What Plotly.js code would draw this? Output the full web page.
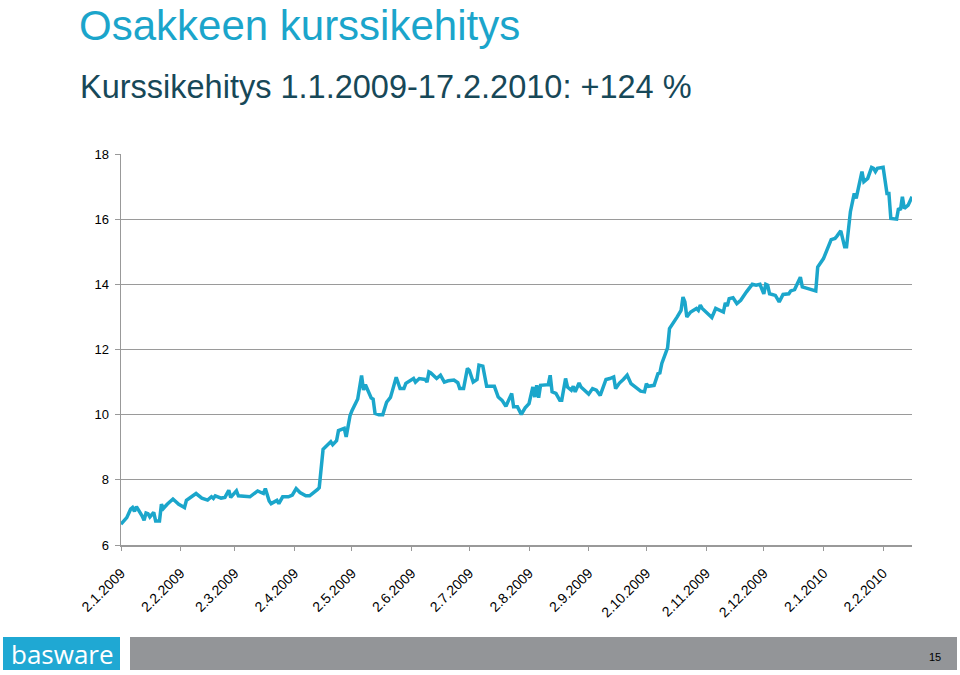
<!DOCTYPE html>
<html>
<head>
<meta charset="utf-8">
<script src="https://cdn.plot.ly/plotly-3.0.1.min.js"></script>
<style>
html,body{margin:0;padding:0;background:#fff;}
#chart{width:960px;height:675px;}
</style>
</head>
<body>
<div id="chart"></div>
<script>
// ---- data ----
const dates = [
"2009-01-02","2009-01-05","2009-01-07","2009-01-08","2009-01-09","2009-01-10","2009-01-13","2009-01-14","2009-01-15","2009-01-16",
"2009-01-17","2009-01-19","2009-01-20","2009-01-22","2009-01-23","2009-01-24","2009-01-26","2009-01-29","2009-02-01","2009-02-04",
"2009-02-05","2009-02-08","2009-02-10","2009-02-13","2009-02-16","2009-02-18","2009-02-19","2009-02-20","2009-02-23","2009-02-25",
"2009-02-27","2009-02-28","2009-03-03","2009-03-04","2009-03-10","2009-03-14","2009-03-17","2009-03-18","2009-03-20","2009-03-21",
"2009-03-24","2009-03-25","2009-03-27","2009-03-30","2009-04-01","2009-04-03","2009-04-05","2009-04-08","2009-04-10","2009-04-14",
"2009-04-15","2009-04-17","2009-04-18","2009-04-21","2009-04-22","2009-04-24","2009-04-25","2009-04-28","2009-04-29","2009-05-01",
"2009-05-02","2009-05-05","2009-05-07","2009-05-08","2009-05-09","2009-05-10","2009-05-12","2009-05-13","2009-05-14","2009-05-16",
"2009-05-18","2009-05-20","2009-05-22","2009-05-23","2009-05-25","2009-05-27","2009-05-29","2009-05-30","2009-05-31","2009-06-03",
"2009-06-04","2009-06-06","2009-06-09","2009-06-10","2009-06-11","2009-06-12","2009-06-15","2009-06-17","2009-06-19","2009-06-21",
"2009-06-24","2009-06-26","2009-06-27","2009-06-29","2009-07-01","2009-07-02","2009-07-04","2009-07-06","2009-07-07","2009-07-09",
"2009-07-11","2009-07-15","2009-07-17","2009-07-19","2009-07-21","2009-07-24","2009-07-25","2009-07-27","2009-07-29","2009-07-31",
"2009-08-02","2009-08-04","2009-08-05","2009-08-06","2009-08-07","2009-08-08","2009-08-12","2009-08-13","2009-08-14","2009-08-16",
"2009-08-18","2009-08-19","2009-08-21","2009-08-22","2009-08-24","2009-08-25","2009-08-26","2009-08-28","2009-08-29","2009-09-01",
"2009-09-02","2009-09-04","2009-09-06","2009-09-08","2009-09-11","2009-09-13","2009-09-15","2009-09-16","2009-09-18","2009-09-20",
"2009-09-22","2009-09-24","2009-09-27","2009-09-29","2009-10-01","2009-10-02","2009-10-03","2009-10-06","2009-10-08","2009-10-09",
"2009-10-10","2009-10-12","2009-10-13","2009-10-14","2009-10-16","2009-10-18","2009-10-20","2009-10-21","2009-10-22","2009-10-23",
"2009-10-25","2009-10-28","2009-10-29","2009-10-30","2009-10-31","2009-11-03","2009-11-05","2009-11-07","2009-11-09","2009-11-11",
"2009-11-12","2009-11-13","2009-11-14","2009-11-16","2009-11-18","2009-11-20","2009-11-23","2009-11-26","2009-11-28","2009-11-30",
"2009-12-02","2009-12-03","2009-12-04","2009-12-05","2009-12-08","2009-12-10","2009-12-12","2009-12-15","2009-12-16","2009-12-18",
"2009-12-21","2009-12-22","2009-12-25","2009-12-29","2009-12-30","2010-01-02","2010-01-06","2010-01-08","2010-01-09","2010-01-11",
"2010-01-13","2010-01-14","2010-01-16","2010-01-18","2010-01-19","2010-01-22","2010-01-23","2010-01-25","2010-01-27","2010-01-28",
"2010-01-29","2010-01-30","2010-02-02","2010-02-04","2010-02-05","2010-02-06","2010-02-09","2010-02-10","2010-02-11","2010-02-12",
"2010-02-13","2010-02-15","2010-02-17"
];
const prices = [
6.64,6.84,7.10,7.15,7.03,7.18,6.89,6.76,6.98,6.96,
6.86,7.00,6.74,6.74,7.25,7.12,7.25,7.41,7.25,7.15,
7.37,7.51,7.58,7.44,7.38,7.48,7.43,7.51,7.44,7.46,
7.68,7.46,7.66,7.51,7.48,7.66,7.58,7.73,7.35,7.27,
7.37,7.27,7.48,7.48,7.53,7.73,7.61,7.51,7.51,7.70,
7.76,8.94,8.99,9.17,9.08,9.20,9.51,9.58,9.32,9.97,
10.12,10.48,11.20,10.76,10.92,10.76,10.51,10.48,10.04,10.00,
10.00,10.38,10.53,10.73,11.15,10.80,10.80,10.96,11.00,11.11,
11.00,11.11,11.08,11.00,11.31,11.28,11.11,11.21,11.00,11.04,
11.06,10.98,10.80,10.80,11.42,11.36,11.00,11.08,11.52,11.49,
10.87,10.87,10.54,10.44,10.26,10.65,10.24,10.24,10.01,10.21,
10.34,10.85,10.54,10.90,10.52,10.90,10.92,11.21,10.70,10.65,
10.44,10.44,11.11,10.85,10.75,10.87,10.70,10.97,10.85,10.67,
10.63,10.80,10.75,10.59,11.08,11.11,11.16,10.80,10.97,11.08,
11.21,10.95,10.83,10.72,10.70,10.95,10.87,10.90,11.26,11.28,
11.57,11.90,12.05,12.64,12.80,13.00,13.20,13.61,13.46,13.00,
13.15,13.26,13.20,13.36,13.26,13.08,12.98,13.26,13.20,13.15,
13.43,13.33,13.56,13.59,13.41,13.51,13.77,14.00,13.97,14.00,
13.71,14.00,13.97,13.71,13.66,13.46,13.69,13.71,13.80,13.84,
14.22,13.92,13.87,13.80,14.53,14.79,15.37,15.41,15.48,15.64,
15.15,15.15,16.23,16.79,16.64,17.46,17.15,17.25,17.59,17.56,
17.46,17.56,17.59,16.79,16.79,16.02,16.00,16.33,16.28,16.69,
16.33,16.43,16.69
];
const tickDates = ["2009-01-02","2009-02-02","2009-03-02","2009-04-02","2009-05-02","2009-06-02","2009-07-02",
"2009-08-02","2009-09-02","2009-10-02","2009-11-02","2009-12-02","2010-01-02","2010-02-02"];
const tickLabels = ["2.1.2009","2.2.2009","2.3.2009","2.4.2009","2.5.2009","2.6.2009","2.7.2009",
"2.8.2009","2.9.2009","2.10.2009","2.11.2009","2.12.2009","2.1.2010","2.2.2010"];
const yTicks = [6,8,10,12,14,16,18];
const titleText = "Osakkeen kurssikehitys";
const subtitleText = "Kurssikehitys 1.1.2009-17.2.2010: +124 %";
const logoText = "basware";
const pageNumber = "15";

// ---- layout helpers (pixel -> paper) ----
const L = 121, R = 48, T = 154, B = 130, W = 960, H = 675;
const pw = W - L - R, ph = H - T - B;
const px = x => (x - L) / pw;
const py = y => (H - B - y) / ph;

const trace = {
  x: dates, y: prices, type: "scatter", mode: "lines",
  line: {color: "#1BA6CB", width: 3.5},
  hoverinfo: "x+y"
};

const layout = {
  width: W, height: H,
  margin: {l: L, r: R, t: T, b: B, pad: 0},
  paper_bgcolor: "#ffffff", plot_bgcolor: "#ffffff",
  showlegend: false,
  font: {family: "Liberation Sans, Arial, sans-serif", color: "#000"},
  xaxis: {
    type: "date",
    range: ["2009-01-02", "2010-02-17"],
    tickvals: tickDates, ticktext: tickLabels,
    tickangle: -45,
    tickfont: {size: 14, color: "#000"},
    ticks: "outside", ticklen: 4, tickcolor: "#999",
    ticklabelstandoff: 9,
    showgrid: false, zeroline: false,
    showline: true, linecolor: "#999", linewidth: 1.5,
    fixedrange: true
  },
  yaxis: {
    range: [6, 18],
    tickvals: yTicks,
    tickfont: {size: 13, color: "#000"},
    ticks: "outside", ticklen: 5, tickcolor: "#999",
    ticklabelstandoff: 3,
    showgrid: true, gridcolor: "#9a9a9a", gridwidth: 1.2,
    zeroline: false,
    showline: true, linecolor: "#999", linewidth: 1.5,
    fixedrange: true
  },
  shapes: [
    {type: "rect", xref: "paper", yref: "paper",
     x0: px(3), x1: px(120), y0: py(670), y1: py(637),
     fillcolor: "#1FA8D3", line: {width: 0}},
    {type: "rect", xref: "paper", yref: "paper",
     x0: px(130), x1: px(957), y0: py(670), y1: py(637),
     fillcolor: "#939598", line: {width: 0}}
  ],
  annotations: [
    {text: titleText, xref: "paper", yref: "paper", x: px(77), y: py(26),
     xanchor: "left", yanchor: "middle", showarrow: false,
     font: {size: 42, color: "#1BA5CB", family: "Liberation Sans, Arial, sans-serif"}},
    {text: subtitleText, xref: "paper", yref: "paper", x: px(78), y: py(87),
     xanchor: "left", yanchor: "middle", showarrow: false,
     font: {size: 32.5, color: "#174858", family: "Liberation Sans, Arial, sans-serif"}},
    {text: logoText, xref: "paper", yref: "paper", x: px(62), y: py(654),
     xanchor: "center", yanchor: "middle", showarrow: false,
     font: {size: 26, color: "#ffffff", family: "Open Sans, Liberation Sans, sans-serif"}},
    {text: pageNumber, xref: "paper", yref: "paper", x: px(935), y: py(657),
     xanchor: "center", yanchor: "middle", showarrow: false,
     font: {size: 11, color: "#000", family: "Liberation Sans, Arial, sans-serif"}}
  ]
};

Plotly.newPlot("chart", [trace], layout, {displayModeBar: false, staticPlot: true});
</script>
</body>
</html>
